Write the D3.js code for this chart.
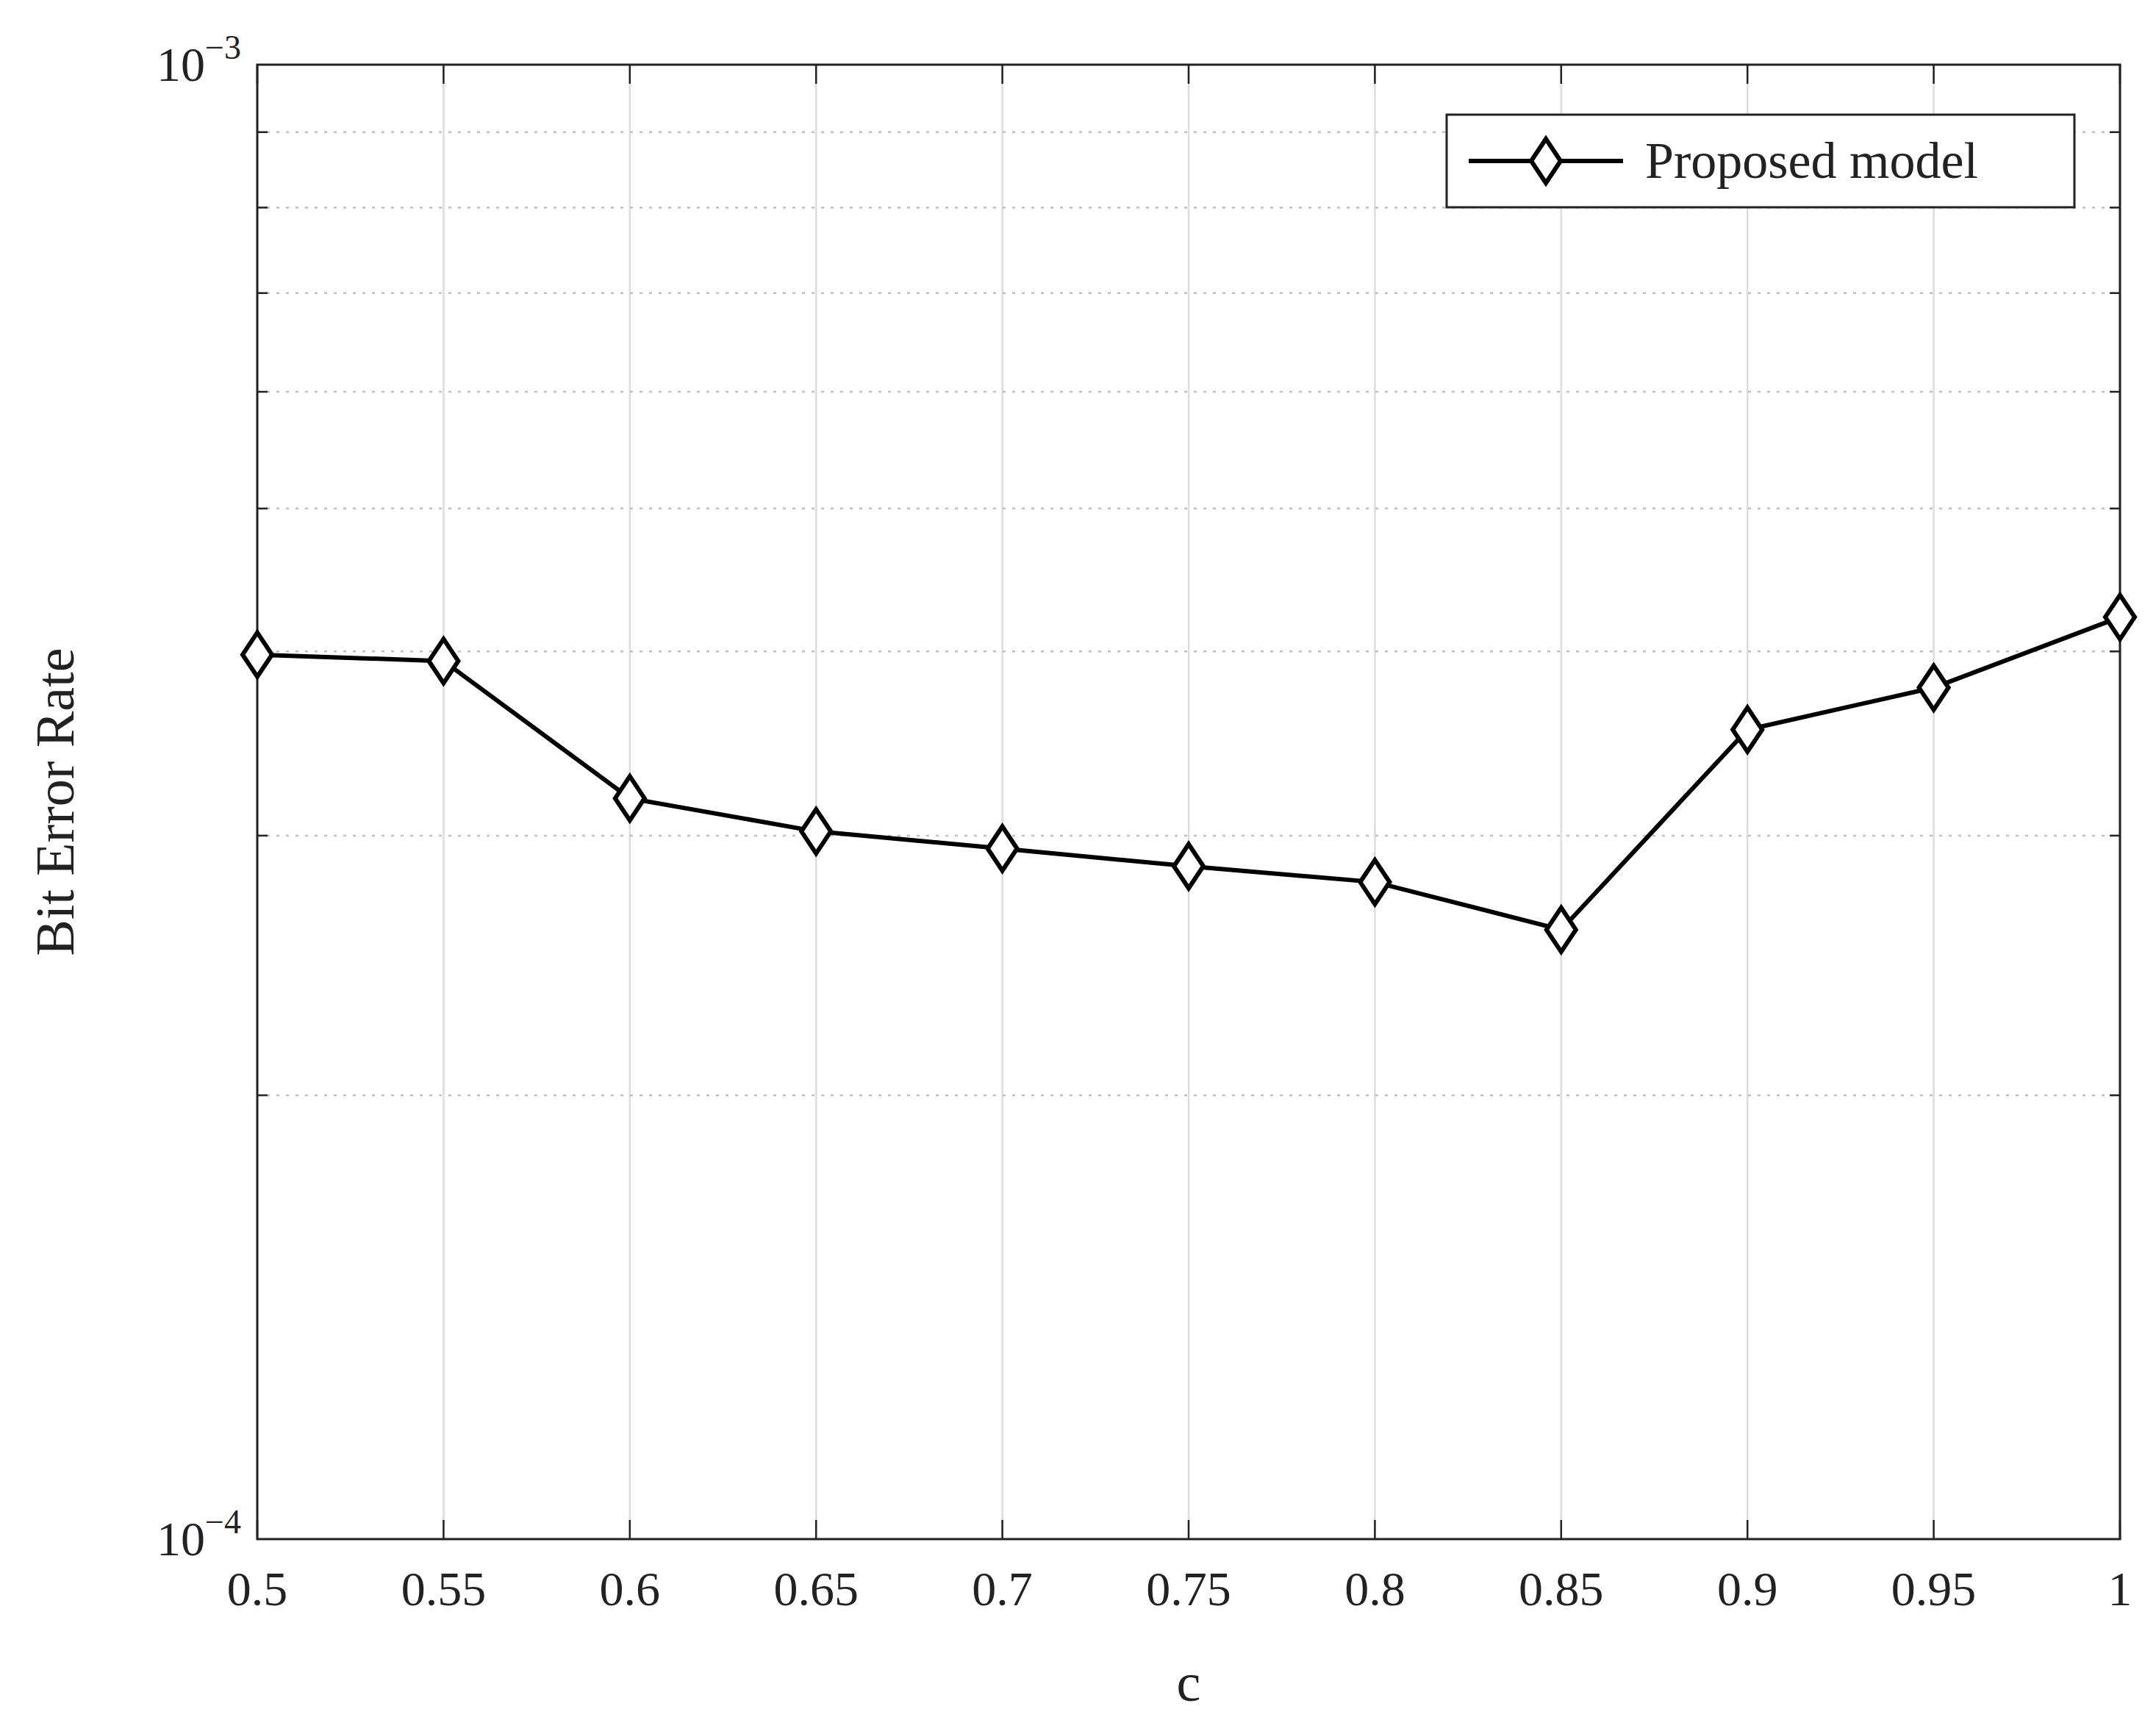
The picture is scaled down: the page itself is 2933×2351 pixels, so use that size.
<!DOCTYPE html>
<html lang="en">
<head>
<meta charset="UTF-8">
<title>BER vs c</title>
<script src="https://cdn.jsdelivr.net/npm/d3@7"></script>
<style>body{margin:0;background:#fff}</style>
</head>
<body>
<svg id="mainsvg" width="2933" height="2351"></svg>
<script>
const cValues = [0.5, 0.55, 0.6, 0.65, 0.7, 0.75, 0.8, 0.85, 0.9, 0.95, 1];
const berValues = [3.98e-4, 3.94e-4, 3.18e-4, 3.02e-4, 2.94e-4, 2.86e-4, 2.79e-4, 2.59e-4, 3.54e-4, 3.78e-4, 4.22e-4];
const xTickLabels = ["0.5","0.55","0.6","0.65","0.7","0.75","0.8","0.85","0.9","0.95","1"];
const yMinorTicks = [2e-4,3e-4,4e-4,5e-4,6e-4,7e-4,8e-4,9e-4];

const svg = d3.select("#mainsvg");
const margin = {top:88, left:350, right:49, bottom:257};
const W = 2933 - margin.left - margin.right, H = 2351 - margin.top - margin.bottom;
const font = "'Liberation Serif', 'DejaVu Serif', serif";
const g = svg.append("g").attr("transform", `translate(${margin.left},${margin.top})`);

const x = d3.scaleLinear().domain([0.5, 1]).range([0, W]);
const y = d3.scaleLog().domain([1e-4, 1e-3]).range([H, 0]);

// grid
g.selectAll(".vg").data(cValues).join("line")
  .attr("x1", d => x(d)).attr("x2", d => x(d)).attr("y1", 0).attr("y2", H)
  .attr("stroke", "#dcdcdc").attr("stroke-width", 2.5);
g.selectAll(".hg").data(yMinorTicks).join("line")
  .attr("x1", 0).attr("x2", W).attr("y1", d => y(d)).attr("y2", d => y(d))
  .attr("stroke", "#bfbfbf").attr("stroke-width", 2.5).attr("stroke-dasharray", "4,9");

// tick marks inside
const tk = 26;
cValues.forEach(d => {
  g.append("line").attr("x1", x(d)).attr("x2", x(d)).attr("y1", H).attr("y2", H - tk).attr("stroke", "#222").attr("stroke-width", 2.5);
  g.append("line").attr("x1", x(d)).attr("x2", x(d)).attr("y1", 0).attr("y2", tk).attr("stroke", "#222").attr("stroke-width", 2.5);
});
yMinorTicks.forEach(d => {
  g.append("line").attr("x1", 0).attr("x2", 14).attr("y1", y(d)).attr("y2", y(d)).attr("stroke", "#222").attr("stroke-width", 2.5);
  g.append("line").attr("x1", W).attr("x2", W - 14).attr("y1", y(d)).attr("y2", y(d)).attr("stroke", "#222").attr("stroke-width", 2.5);
});

// box
g.append("rect").attr("width", W).attr("height", H).attr("fill", "none").attr("stroke", "#222").attr("stroke-width", 3);

// x tick labels
g.selectAll(".xl").data(cValues).join("text")
  .attr("x", d => x(d)).attr("y", H + 90).attr("text-anchor", "middle")
  .attr("font-family", font).attr("font-size", 66).attr("fill", "#222")
  .text((d, i) => xTickLabels[i]);

// y tick labels 10^-4, 10^-3
[[1e-4, "−4"], [1e-3, "−3"]].forEach(([v, e]) => {
  const t = g.append("text").attr("x", -22).attr("y", y(v) + 22).attr("text-anchor", "end")
    .attr("font-family", font).attr("font-size", 66).attr("fill", "#222");
  t.append("tspan").text("10");
  t.append("tspan").attr("dy", -30).attr("font-size", 46).text(e);
});

// axis labels
g.append("text").attr("x", W / 2).attr("y", H + 220).attr("text-anchor", "middle")
  .attr("font-family", font).attr("font-size", 74).attr("fill", "#222").text("c");
g.append("text").attr("transform", `translate(-250,${H / 2}) rotate(-90)`).attr("text-anchor", "middle")
  .attr("font-family", font).attr("font-size", 74).attr("fill", "#222").text("Bit Error Rate");

// line + markers
const pts = cValues.map((c, i) => [c, berValues[i]]);
g.append("path").datum(pts)
  .attr("d", d3.line().x(d => x(d[0])).y(d => y(d[1])))
  .attr("fill", "none").attr("stroke", "#000").attr("stroke-width", 6);
const dm = (cx, cy) => `M${cx},${cy - 30}L${cx + 20},${cy}L${cx},${cy + 30}L${cx - 20},${cy}Z`;
g.selectAll(".mk").data(pts).join("path")
  .attr("d", d => dm(x(d[0]), y(d[1])))
  .attr("fill", "#fff").attr("stroke", "#000").attr("stroke-width", 6);

// legend
const lg = svg.append("g").attr("transform", "translate(1968,156)");
lg.append("rect").attr("width", 854).attr("height", 126).attr("fill", "#fff").attr("stroke", "#222").attr("stroke-width", 3);
lg.append("line").attr("x1", 30).attr("x2", 240).attr("y1", 63).attr("y2", 63).attr("stroke", "#000").attr("stroke-width", 6);
lg.append("path").attr("d", dm(135, 63)).attr("fill", "#fff").attr("stroke", "#000").attr("stroke-width", 6);
lg.append("text").attr("x", 270).attr("y", 86).attr("font-family", font).attr("font-size", 70).attr("fill", "#222").text("Proposed model");
</script>
</body>
</html>
